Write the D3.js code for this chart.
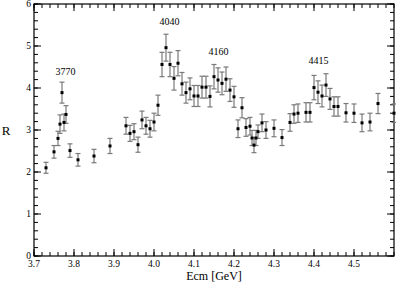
<!DOCTYPE html>
<html>
<head>
<meta charset="utf-8">
<script src="https://cdn.jsdelivr.net/npm/d3@7"></script>
<style>
    body { margin: 0; background: #fff; }
    svg { display: block; font-family: "Liberation Serif", "DejaVu Serif", serif; }
</style>
</head>
<body>
<div id="chart"></div>
<script>
const energies = [
    3.73, 3.75, 3.76, 3.765, 3.77, 3.775, 3.78, 3.79, 3.81, 3.85,
    3.89, 3.93, 3.94, 3.95, 3.96, 3.97, 3.98, 3.99, 4.00, 4.01,
    4.02, 4.03, 4.04, 4.05, 4.06, 4.07, 4.08, 4.09, 4.10, 4.11,
    4.12, 4.13, 4.14, 4.15, 4.16, 4.17, 4.18, 4.19, 4.20, 4.21,
    4.22, 4.23, 4.24, 4.245, 4.25, 4.255, 4.26, 4.27, 4.28, 4.30,
    4.32, 4.34, 4.35, 4.36, 4.38, 4.39, 4.40, 4.41, 4.42, 4.43,
    4.44, 4.45, 4.46, 4.48, 4.50, 4.52, 4.54, 4.56, 4.60
];
const rValues = [
    2.10, 2.48, 2.80, 3.14, 3.89, 3.18, 3.37, 2.51, 2.29, 2.38,
    2.62, 3.10, 2.92, 2.96, 2.65, 3.24, 3.10, 3.03, 3.19, 3.59,
    4.56, 4.96, 4.56, 4.23, 4.59, 4.10, 3.89, 3.98, 3.81, 3.81,
    4.02, 4.02, 3.80, 4.27, 4.19, 4.11, 4.21, 3.95, 3.79, 3.03,
    3.53, 3.06, 3.09, 2.81, 2.64, 2.81, 2.96, 3.17, 3.00, 3.04,
    2.82, 3.18, 3.38, 3.40, 3.42, 3.42, 4.01, 3.90, 3.81, 4.07,
    3.74, 3.56, 3.56, 3.41, 3.40, 3.17, 3.19, 3.63, 3.40
];
const rErrors = [
    0.13, 0.15, 0.17, 0.22, 0.25, 0.20, 0.21, 0.16, 0.15, 0.16,
    0.18, 0.20, 0.19, 0.19, 0.18, 0.21, 0.20, 0.20, 0.21, 0.24,
    0.29, 0.32, 0.29, 0.28, 0.30, 0.27, 0.25, 0.26, 0.25, 0.25,
    0.26, 0.26, 0.25, 0.29, 0.29, 0.27, 0.29, 0.27, 0.25, 0.21,
    0.24, 0.21, 0.21, 0.18, 0.18, 0.18, 0.16, 0.21, 0.20, 0.20,
    0.19, 0.21, 0.22, 0.22, 0.23, 0.23, 0.29, 0.27, 0.26, 0.27,
    0.25, 0.23, 0.23, 0.22, 0.22, 0.21, 0.21, 0.24, 0.22
];
const xTicks = [3.7, 3.8, 3.9, 4.0, 4.1, 4.2, 4.3, 4.4, 4.5];
const yTicks = [0, 1, 2, 3, 4, 5, 6];
const peakLabels = ["3770", "4040", "4160", "4415"];
const peakEnergies = [3.779, 4.039, 4.161, 4.411];
const peakHeights = [4.32, 5.51, 4.79, 4.56];

const width = 396;
const height = 291;
const margin = { top: 4, right: 2, bottom: 35, left: 34 };

const svg = d3.select("#chart")
    .append("svg")
    .attr("width", width)
    .attr("height", height);

const x = d3.scaleLinear()
    .domain([3.7, 4.6])
    .range([margin.left, width - margin.right]);

const y = d3.scaleLinear()
    .domain([0, 6])
    .range([height - margin.bottom, margin.top]);

const points = energies.map((e, i) => ({ e: e, r: rValues[i], err: rErrors[i] }));

// inward ticks on all four sides
const xMinor = d3.range(3.7, 4.6001, 0.02);
const yMinor = d3.range(0, 6.0001, 0.2);

function drawTicks(g, values, len, side) {
    g.selectAll(null)
        .data(values)
        .join("line")
        .attr("x1", d => side === "bottom" || side === "top" ? x(d) : (side === "left" ? x.range()[0] : x.range()[1]))
        .attr("x2", d => side === "bottom" || side === "top" ? x(d) : (side === "left" ? x.range()[0] + len : x.range()[1] - len))
        .attr("y1", d => side === "left" || side === "right" ? y(d) : (side === "bottom" ? y.range()[0] : y.range()[1]))
        .attr("y2", d => side === "left" || side === "right" ? y(d) : (side === "bottom" ? y.range()[0] - len : y.range()[1] + len));
}

const ticks = svg.append("g")
    .attr("stroke", "#000")
    .attr("stroke-width", 1);

["bottom", "top"].forEach(side => {
    drawTicks(ticks, xMinor, 4, side);
    drawTicks(ticks, xTicks, 7, side);
});
["left", "right"].forEach(side => {
    drawTicks(ticks, yMinor, 4, side);
    drawTicks(ticks, yTicks, 7, side);
});

svg.append("rect")
    .attr("x", x.range()[0])
    .attr("y", y.range()[1])
    .attr("width", x.range()[1] - x.range()[0])
    .attr("height", y.range()[0] - y.range()[1])
    .attr("fill", "none")
    .attr("stroke", "#000")
    .attr("stroke-width", 1.2);

svg.append("g")
    .selectAll("text")
    .data(xTicks)
    .join("text")
    .attr("x", d => x(d))
    .attr("y", y(0) + 11)
    .attr("text-anchor", "middle")
    .style("font-size", "9.5px")
    .text(d => d.toFixed(1));

svg.append("g")
    .selectAll("text")
    .data(yTicks)
    .join("text")
    .attr("x", x(3.7) - 3)
    .attr("y", d => y(d) + 3)
    .attr("text-anchor", "end")
    .style("font-size", "9.5px")
    .text(d => d);

svg.append("text")
    .attr("x", (x.range()[0] + x.range()[1]) / 2)
    .attr("y", 280)
    .attr("text-anchor", "middle")
    .style("font-size", "12px")
    .text("Ecm [GeV]");

svg.append("text")
    .attr("x", 6)
    .attr("y", y(3) + 5)
    .attr("text-anchor", "middle")
    .style("font-size", "13px")
    .text("R");

// error bars
const bars = svg.append("g")
    .attr("stroke", "#7a7a7a")
    .attr("stroke-width", 1.2);

bars.selectAll(".stem")
    .data(points)
    .join("line")
    .attr("class", "stem")
    .attr("x1", d => x(d.e))
    .attr("x2", d => x(d.e))
    .attr("y1", d => y(d.r - d.err))
    .attr("y2", d => y(d.r + d.err));

bars.selectAll(".cap")
    .data(points.flatMap(d => [{ e: d.e, v: d.r - d.err }, { e: d.e, v: d.r + d.err }]))
    .join("line")
    .attr("class", "cap")
    .attr("x1", d => x(d.e) - 2.5)
    .attr("x2", d => x(d.e) + 2.5)
    .attr("y1", d => y(d.v))
    .attr("y2", d => y(d.v));

svg.append("g")
    .selectAll("rect")
    .data(points)
    .join("rect")
    .attr("x", d => x(d.e) - 1.5)
    .attr("y", d => y(d.r) - 1.5)
    .attr("width", 3)
    .attr("height", 3)
    .attr("fill", "#000");

svg.append("g")
    .selectAll("text")
    .data(peakLabels)
    .join("text")
    .attr("x", (d, i) => x(peakEnergies[i]))
    .attr("y", (d, i) => y(peakHeights[i]))
    .attr("text-anchor", "middle")
    .style("font-size", "10px")
    .text(d => d);
</script>
</body>
</html>
